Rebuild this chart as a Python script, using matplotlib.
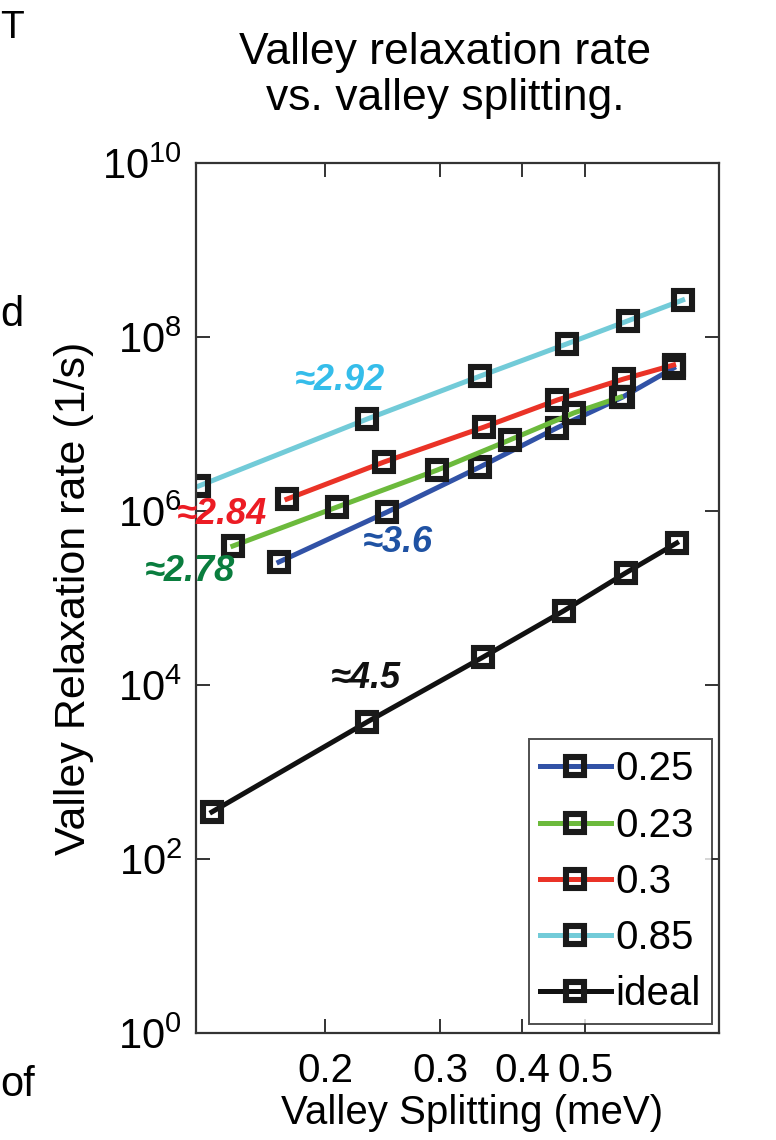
import matplotlib
matplotlib.use("Agg")
import matplotlib.pyplot as plt

plt.rcParams['font.family'] = ['Liberation Sans', 'DejaVu Sans']
plt.rcParams['mathtext.fontset'] = 'custom'
plt.rcParams['mathtext.rm'] = 'Liberation Sans'

# ---- data ----
series_labels = ['0.25', '0.23', '0.3', '0.85', 'ideal']
series_colors = ['#3152a6', '#6cba3c', '#ea3327', '#72cbd8', '#111111']

x_025 = [0.170, 0.249, 0.345, 0.452, 0.570, 0.682]
y_025 = [2.59e5, 9.75e5, 3.21e6, 9.0e6, 2.04e7, 4.40e7]

x_023 = [0.1446, 0.2086, 0.297, 0.383, 0.480, 0.566]
y_023 = [3.96e5, 1.11e6, 2.96e6, 6.55e6, 1.34e7, 2.04e7]

x_03 = [0.1749, 0.2462, 0.3503, 0.4532, 0.572, 0.682]
y_03 = [1.37e6, 3.66e6, 9.24e6, 1.89e7, 3.29e7, 4.77e7]

x_085 = [0.1283, 0.2319, 0.3454, 0.4678, 0.580, 0.704]
y_085 = [1.94e6, 1.14e7, 3.56e7, 8.31e7, 1.53e8, 2.66e8]

x_ideal = [0.1343, 0.2319, 0.3491, 0.4629, 0.576, 0.6895]
y_ideal = [347, 3755, 2.10e4, 7.09e4, 1.94e5, 4.29e5]

xs = [x_025, x_023, x_03, x_085, x_ideal]
ys = [y_025, y_023, y_03, y_085, y_ideal]

x_ticks = [0.2, 0.3, 0.4, 0.5]
x_tick_labels = ['0.2', '0.3', '0.4', '0.5']
y_exponents = [0, 2, 4, 6, 8, 10]

slope_texts = ['\u22482.92', '\u22482.84', '\u22482.78', '\u22483.6', '\u22484.5']
slope_colors = ['#35bdea', '#ec1c24', '#0a7d3e', '#1f52a3', '#111111']
slope_x = [0.211, 0.139, 0.1243, 0.2587, 0.2311]
slope_y = [3.2e7, 9.0e5, 1.99e5, 4.29e5, 1.2e4]

title_text = 'Valley relaxation rate\nvs. valley splitting.'
xlabel_text = 'Valley Splitting (meV)'
ylabel_text = 'Valley Relaxation rate (1/s)'

# ---- figure ----
fig = plt.figure(figsize=(7.76, 11.4), dpi=100)
ax = fig.add_axes([0.2526, 0.0939, 0.6739, 0.7631])

for xv, yv, c, lab in zip(xs, ys, series_colors, series_labels):
    ax.plot(xv, yv, '-', color=c, lw=3.6, marker='s', markersize=13,
            markerfacecolor='none', markeredgecolor='#1a1a1a', markeredgewidth=4.4,
            label=lab)

ax.set_xscale('log')
ax.set_yscale('log')
ax.set_xlim(0.127, 0.80)
ax.set_ylim(1, 1e10)

ax.set_xticks(x_ticks)
ax.set_xticklabels(x_tick_labels)
ax.xaxis.set_minor_locator(matplotlib.ticker.NullLocator())
ax.set_yticks([10.0 ** e for e in y_exponents])
ax.set_yticklabels([r'$\mathregular{10^{%d}}$' % e for e in y_exponents])
ax.yaxis.set_minor_locator(matplotlib.ticker.NullLocator())

ax.tick_params(which='both', direction='in', top=True, right=True,
               length=10, width=1.4, color='#333333', labelsize=30)
ax.tick_params(axis='x', pad=14, labelsize=29)
ax.tick_params(axis='y', pad=10)
for sp in ax.spines.values():
    sp.set_linewidth(1.6)
    sp.set_color('#333333')

ax.set_xlabel(xlabel_text, fontsize=29)
ax.xaxis.set_label_coords(0.528, -0.0705)
ax.set_ylabel(ylabel_text, fontsize=31, labelpad=6)
ax.set_title(title_text, fontsize=32, linespacing=1.15, pad=38, x=0.476)

for t, c, tx, ty in zip(slope_texts, slope_colors, slope_x, slope_y):
    ax.text(tx, ty, t, color=c, fontsize=26, fontweight='bold', fontstyle='italic',
            ha='center', va='center', clip_on=False,
            family=['Liberation Sans', 'DejaVu Sans'])

leg = ax.legend(loc='lower right', bbox_to_anchor=(0.987, 0.010), borderaxespad=0,
                fontsize=29, frameon=True, fancybox=False, handlelength=1.75,
                handletextpad=0.12, labelspacing=0.45, borderpad=0.28)
leg.get_frame().set_edgecolor('#222222')
leg.get_frame().set_linewidth(1.4)

# fragments of neighbouring page text at the left edge
fig.text(0.0, 1 - 315 / 1140, 'd', fontsize=30, va='center', ha='left')
fig.text(0.0, 1 - 1085 / 1140, 'of', fontsize=30, va='center', ha='left')
fig.text(0.0, 1 - 28 / 1140, 'T', fontsize=28, va='center', ha='left')

fig.savefig('out.png', dpi=100)
